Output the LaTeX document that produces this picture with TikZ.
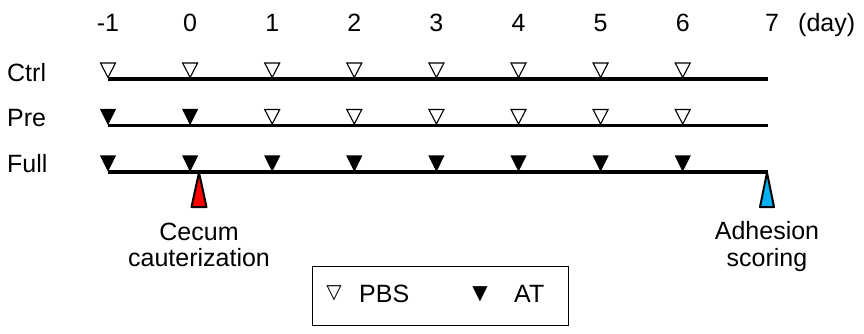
\documentclass[tikz,border=0pt]{standalone}
\usepackage{fontspec}
\setmainfont{Liberation Sans}
\newfontfamily\dejavu{DejaVu Sans}
\definecolor{cautred}{RGB}{255,0,0}
\definecolor{scoreblue}{RGB}{0,176,240}
\begin{document}
\begin{tikzpicture}[x=1pt,y=-1pt,
  lbl/.style={font=\fontsize{25}{26.5}\selectfont, inner sep=0pt},
  timeline/.style={line width=3.6pt},
  openmark/.style={draw=black, fill=white, line width=1.1pt, line join=miter},
  fullmark/.style={draw=black, fill=black, line width=1.1pt, line join=miter},
  eventmark/.style={draw=black, line width=2pt, line join=round},
  legendbox/.style={draw=black, line width=0.9pt, inner sep=0pt, minimum width=256pt, minimum height=59pt},
  symb/.style={font=\dejavu\fontsize{20}{20}\selectfont, inner sep=0pt}]
\useasboundingbox (0,0) rectangle (864,334);

% day labels
\foreach \n/\d/\t in {dm1/-1/-1, d0/0/0, d1/1/1, d2/2/2, d3/3/3, d4/4/4, d5/5/5, d6/6/6}
  \node[lbl, anchor=base] (\n) at ({108+82.1*(\d+1)}, 31.5) {\t};
\node[lbl, anchor=base] (d7) at (772,31.5) {7};
\node[lbl, anchor=base west] (dayunit) at (798,31.5) {(day)};

% row labels
\node[lbl, anchor=base west] (ctrl) at (7,81.7) {Ctrl};
\node[lbl, anchor=base west] (pre) at (7,126.5) {Pre};
\node[lbl, anchor=base west] (full) at (7,172) {Full};

% timelines
\coordinate (ctrlS) at (108,79);    \coordinate (ctrlE) at (768,79);
\coordinate (preS) at (108,125.5);  \coordinate (preE) at (768,125.5);
\coordinate (fullS) at (108,172);   \coordinate (fullE) at (768,172);

% event triangles (under the line)
\coordinate (cautTip) at (199,172.5);
\coordinate (scoreTip) at (767,172.5);
\draw[eventmark, fill=cautred] (191.5,207) -- (206.5,207) -- (cautTip) -- cycle;
\draw[eventmark, fill=scoreblue] (760,207) -- (774,207) -- (scoreTip) -- cycle;

\draw[timeline] (ctrlS) -- (ctrlE);
\draw[timeline] (preS) -- (preE);
\draw[timeline] (fullS) -- (fullE);

% markers
\foreach \d in {-1,0,...,6}{
  \pgfmathsetmacro{\xx}{108+82.1*(\d+1)}
  % Ctrl: PBS
  \draw[openmark] (\xx-7.5,63) -- (\xx+7.5,63) -- (\xx,77.5) -- cycle;
  % Full: AT
  \draw[fullmark] (\xx-7.2,156) -- (\xx+7.2,156) -- (\xx,170.5) -- cycle;
}
\foreach \d in {-1,0}{
  \pgfmathsetmacro{\xx}{108+82.1*(\d+1)}
  \draw[fullmark] (\xx-7.2,109.5) -- (\xx+7.2,109.5) -- (\xx,124) -- cycle;
}
\foreach \d in {1,...,6}{
  \pgfmathsetmacro{\xx}{108+82.1*(\d+1)}
  \draw[openmark] (\xx-7.5,109.5) -- (\xx+7.5,109.5) -- (\xx,124) -- cycle;
}

% event labels
\node[lbl, align=center, anchor=north] (cecum) at (199,222.5) {Cecum\\cauterization};
\node[lbl, align=center, anchor=north] (adhesion) at (767,221.5) {Adhesion\\scoring};

% legend
\node[legendbox, anchor=north west] (legend) at (312,266) {};
\node[symb] (pbssym) at (334,293.5) {▽};
\node[lbl, anchor=base west] (pbs) at (359,302) {PBS};
\node[symb] (atsym) at (480,294) {▼};
\node[lbl, anchor=base west] (at) at (514,302) {AT};
\end{tikzpicture}
\end{document}
